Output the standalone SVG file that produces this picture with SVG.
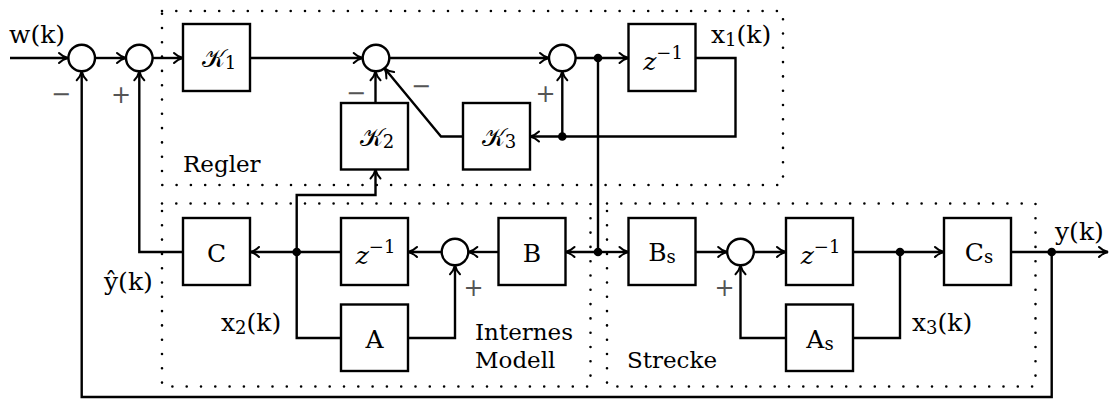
<svg xmlns="http://www.w3.org/2000/svg" width="1117" height="403" viewBox="0 0 1117 403">
<style>
.box{fill:#fff;stroke:#000;stroke-width:2.4}
.sum{fill:#fff;stroke:#000;stroke-width:2.4}
.ln{fill:none;stroke:#000;stroke-width:2.4}
.ar{fill:none;stroke:#000;stroke-width:2.4;marker-end:url(#arr)}
.dot{fill:#000}
.dash{fill:none;stroke:#000;stroke-width:2.6;stroke-linecap:round;stroke-dasharray:0 14.3}
.t{font-family:"DejaVu Serif","Liberation Serif",serif;font-size:23px;fill:#000}
.m{font-family:"DejaVu Serif","Liberation Serif",serif;font-size:25px;fill:#000}
.sg{font-family:"DejaVu Sans","Liberation Sans",sans-serif;font-size:24px;fill:#555}
</style>
<defs>
<marker id="arr" markerUnits="userSpaceOnUse" markerWidth="14" markerHeight="14" viewBox="-10 -7 12 14" refX="0" refY="0" orient="auto" overflow="visible">
<path d="M -9 -5 C -6 -2 -2.5 -0.6 0 0 C -2.5 0.6 -6 2 -9 5" fill="none" stroke="#000" stroke-width="2" stroke-linecap="round"/>
</marker>
</defs>

<g id="frames">
<rect class="dash" x="162" y="11" width="621" height="174"/>
<rect class="dash" x="162" y="203.5" width="428.5" height="183"/>
<rect class="dash" x="607" y="203.5" width="428.5" height="183"/>
</g>

<g id="connectors">
<path class="ar" d="M10 58 H68"/>
<path class="ar" d="M95 58 H126"/>
<path class="ar" d="M152.6 58 H183"/>
<path class="ar" d="M250 58 H362.7"/>
<path class="ar" d="M389.3 58 H549"/>
<path class="ar" d="M575.6 58 H628.5"/>
<path class="ln" d="M598 58 V252"/>
<path class="ar" d="M695.5 58 H735.5 V136.5 H530"/>
<path class="ar" d="M562.3 136.5 V71.3"/>
<path class="ar" d="M463 136.5 H441 L384.5 68.3"/>
<path class="ar" d="M375.5 103 V71.3"/>
<path class="ar" d="M341 252 H250"/>
<path class="ar" d="M296.7 252 V195 H375.5 V169.5"/>
<path class="ln" d="M296.7 252 V338 H341"/>
<path class="ar" d="M408 338 H455 V265.3"/>
<path class="ar" d="M441.7 252 H408"/>
<path class="ar" d="M498.5 252 H468.3"/>
<path class="ar" d="M598 252 H565.5"/>
<path class="ar" d="M598 252 H628.5"/>
<path class="ar" d="M695.5 252 H727.2"/>
<path class="ar" d="M753.8 252 H786"/>
<path class="ar" d="M853 252 H944"/>
<path class="ln" d="M900 252 V338 H853"/>
<path class="ar" d="M786 338 H740.5 V265.3"/>
<path class="ar" d="M1011 252 H1108"/>
<path class="ar" d="M1051.7 252 V397 H81.7 V71.3"/>
<path class="ar" d="M183 252 H139.3 V71.3"/>
<circle class="dot" cx="598" cy="58" r="4.3"/>
<circle class="dot" cx="562.3" cy="136.5" r="4.3"/>
<circle class="dot" cx="296.7" cy="252" r="4.3"/>
<circle class="dot" cx="598" cy="252" r="4.3"/>
<circle class="dot" cx="900" cy="252" r="4.3"/>
<circle class="dot" cx="1051.7" cy="252" r="4.3"/>
</g>

<g id="sum1"><circle class="sum" cx="81.7" cy="58" r="13.3"/></g>
<g id="sum2"><circle class="sum" cx="139.3" cy="58" r="13.3"/></g>
<g id="sumK"><circle class="sum" cx="376" cy="58" r="13.3"/></g>
<g id="sum5"><circle class="sum" cx="562.3" cy="58" r="13.3"/></g>
<g id="sum3"><circle class="sum" cx="455" cy="252" r="13.3"/></g>
<g id="sum4"><circle class="sum" cx="740.5" cy="252" r="13.3"/></g>

<g id="K1"><rect class="box" x="183" y="24" width="67" height="67"/><text class="m" x="219" y="67" text-anchor="middle">𝒦<tspan font-size="18" dy="2">1</tspan></text></g>
<g id="K2"><rect class="box" x="341" y="103" width="67" height="66.5"/><text class="m" x="377" y="146" text-anchor="middle">𝒦<tspan font-size="18" dy="2">2</tspan></text></g>
<g id="K3"><rect class="box" x="463" y="103" width="67" height="66.5"/><text class="m" x="499" y="146" text-anchor="middle">𝒦<tspan font-size="18" dy="2">3</tspan></text></g>
<g id="Z1"><rect class="box" x="628.5" y="24" width="67" height="67"/><text class="m" x="663" y="70" text-anchor="middle"><tspan font-style="italic">z</tspan><tspan font-size="18" dy="-11">−1</tspan></text></g>
<g id="C"><rect class="box" x="183" y="218" width="67" height="67"/><text class="m" x="216.5" y="262" text-anchor="middle">C</text></g>
<g id="Z2"><rect class="box" x="341" y="218" width="67" height="67"/><text class="m" x="375.5" y="264" text-anchor="middle"><tspan font-style="italic">z</tspan><tspan font-size="18" dy="-11">−1</tspan></text></g>
<g id="A"><rect class="box" x="341" y="304.5" width="67" height="66.5"/><text class="m" x="374.5" y="348" text-anchor="middle">A</text></g>
<g id="B"><rect class="box" x="498.5" y="218" width="67" height="67"/><text class="m" x="532" y="262" text-anchor="middle">B</text></g>
<g id="Bs"><rect class="box" x="628.5" y="218" width="67" height="67"/><text class="m" x="662" y="261" text-anchor="middle">B<tspan font-size="18" dy="2">s</tspan></text></g>
<g id="Z3"><rect class="box" x="786" y="218" width="67" height="67"/><text class="m" x="820.5" y="264" text-anchor="middle"><tspan font-style="italic">z</tspan><tspan font-size="18" dy="-11">−1</tspan></text></g>
<g id="Cs"><rect class="box" x="944" y="218" width="67" height="67"/><text class="m" x="979" y="261" text-anchor="middle">C<tspan font-size="18" dy="2">s</tspan></text></g>
<g id="As"><rect class="box" x="786" y="304.5" width="67" height="66.5"/><text class="m" x="820" y="348" text-anchor="middle">A<tspan font-size="18" dy="2">s</tspan></text></g>

<g id="labels">
<text class="m" x="9" y="43">w(k)</text>
<text class="m" x="711" y="43">x<tspan font-size="18" dy="3">1</tspan><tspan dy="-3">(k)</tspan></text>
<text class="m" x="104" y="290">ŷ(k)</text>
<text class="m" x="221" y="331">x<tspan font-size="18" dy="3">2</tspan><tspan dy="-3">(k)</tspan></text>
<text class="m" x="912" y="331">x<tspan font-size="18" dy="3">3</tspan><tspan dy="-3">(k)</tspan></text>
<text class="m" x="1055" y="240">y(k)</text>
<text class="t" x="183" y="172">Regler</text>
<text class="t" x="475" y="340">Internes</text>
<text class="t" x="475" y="368">Modell</text>
<text class="t" x="627" y="368">Strecke</text>
<text class="sg" x="61" y="102" text-anchor="middle">−</text>
<text class="sg" x="121" y="103" text-anchor="middle">+</text>
<text class="sg" x="356" y="101" text-anchor="middle">−</text>
<text class="sg" x="421" y="94" text-anchor="middle">−</text>
<text class="sg" x="545.5" y="102" text-anchor="middle">+</text>
<text class="sg" x="473.5" y="296" text-anchor="middle">+</text>
<text class="sg" x="724.5" y="296" text-anchor="middle">+</text>
</g>
</svg>
